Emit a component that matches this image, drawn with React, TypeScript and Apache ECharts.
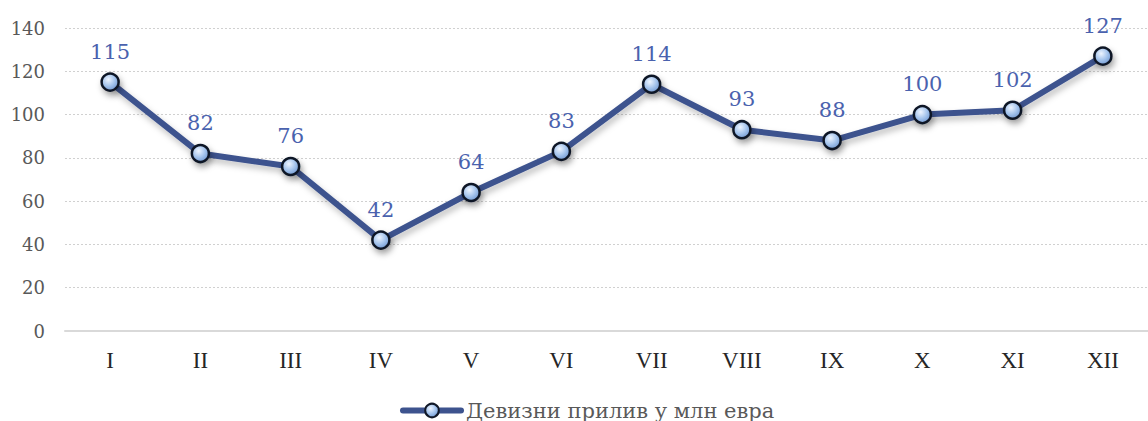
import React, { useEffect, useRef } from "react";
import * as echarts from "echarts";

const categories = ["I", "II", "III", "IV", "V", "VI", "VII", "VIII", "IX", "X", "XI", "XII"];
const values = [115, 82, 76, 42, 64, 83, 114, 93, 88, 100, 102, 127];
const seriesName = "Девизни прилив у млн евра";
const yMin = 0;
const yMax = 140;
const yStep = 20;

const lineColor = "#3d538e";
const labelColor = "#4a62ae";

export default function App() {
  const ref = useRef<HTMLDivElement>(null);
  useEffect(() => {
    if (!ref.current) return;
    const chart = echarts.init(ref.current, null, { renderer: "svg" });
    const markerFill = new echarts.graphic.RadialGradient(0.4, 0.35, 0.7, [
      { offset: 0, color: "#eef5ff" },
      { offset: 0.55, color: "#a3c3ec" },
      { offset: 1, color: "#6f96cf" },
    ]);
    chart.setOption({
      animation: false,
      grid: { left: 65, right: 0, top: 28, bottom: 90, containLabel: false },
      legend: {
        bottom: -5,
        left: 395,
        itemWidth: 58,
        itemHeight: 17,
        itemGap: 4,
        lineStyle: { width: 6, cap: "round" },
        textStyle: { fontFamily: "DejaVu Serif", fontSize: 21, color: "#595959" },
        data: [seriesName],
      },
      xAxis: {
        type: "category",
        data: categories,
        boundaryGap: true,
        axisLine: { show: true, lineStyle: { color: "#d9d9d9", width: 2 } },
        axisTick: { show: false },
        axisLabel: { margin: 18, color: "#262626", fontFamily: "Liberation Serif", fontSize: 23 },
      },
      yAxis: {
        type: "value",
        min: yMin,
        max: yMax,
        interval: yStep,
        axisLine: { show: false },
        axisTick: { show: false },
        axisLabel: { margin: 20, color: "#595959", fontFamily: "DejaVu Serif", fontSize: 18 },
        splitLine: { lineStyle: { color: "#d0d0d0", type: [2, 2], width: 1 } },
      },
      series: [
        {
          name: seriesName,
          type: "line",
          data: values,
          symbol: "circle",
          symbolSize: 17,
          lineStyle: {
            color: lineColor,
            width: 6,
            shadowColor: "rgba(0,0,0,0.25)",
            shadowBlur: 6,
            shadowOffsetX: 2,
            shadowOffsetY: 4,
          },
          itemStyle: {
            color: markerFill,
            borderColor: "#111827",
            borderWidth: 2.5,
            shadowColor: "rgba(0,0,0,0.35)",
            shadowBlur: 6,
            shadowOffsetX: 2,
            shadowOffsetY: 4,
          },
          label: {
            show: true,
            position: "top",
            distance: 10,
            color: labelColor,
            fontFamily: "DejaVu Serif",
            fontSize: 21,
          },
          z: 3,
        },
      ],
    });
    return () => chart.dispose();
  }, []);
  return (
    <div
      ref={ref}
      style={{ position: "fixed", left: 0, top: 0, width: 1148, height: 421, background: "#fff" }}
    />
  );
}
